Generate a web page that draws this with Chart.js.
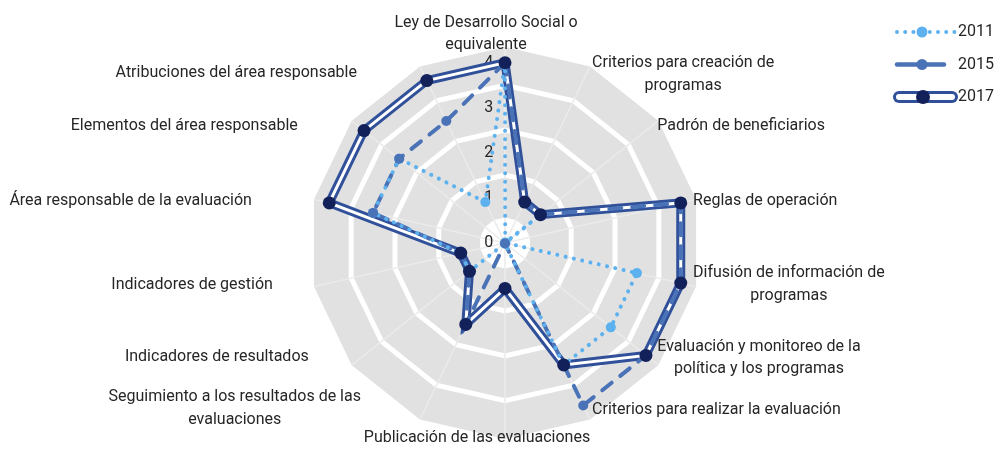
<!DOCTYPE html>
<html lang="es">
<head>
<meta charset="utf-8">
<title>Radar evaluación</title>
<script src="https://cdn.jsdelivr.net/npm/chart.js@4.4.1/dist/chart.umd.min.js"></script>
<style>
  html, body { margin: 0; padding: 0; background: #fff; }
  #wrap { width: 1000px; height: 449px; }
</style>
</head>
<body>
<div id="wrap"><canvas id="chart-radar"></canvas></div>
<script>
/* ---- Data ---- */
const categories = [
  ['Ley de Desarrollo Social o', 'equivalente'],
  ['Criterios para creación de', 'programas'],
  'Padrón de beneficiarios',
  'Reglas de operación',
  ['Difusión de información de', 'programas'],
  ['Evaluación y monitoreo de la', 'política y los programas'],
  'Criterios para realizar la evaluación',
  'Publicación de las evaluaciones',
  ['Seguimiento a los resultados de las', 'evaluaciones'],
  'Indicadores de resultados',
  'Indicadores de gestión',
  'Área responsable de la evaluación',
  'Elementos del área responsable',
  'Atribuciones del área responsable',
];
const years = ['2011', '2015', '2017'];
const v2011 = [4, 0, 1, 0, 3, 3, 3, 0, 0, 1, 1, 3, 3, 1];
const v2015 = [4, 1, 1, 4, 4, 4, 4, 0, 2, 1, 1, 3, 3, 3];
const v2017 = [4, 1, 1, 4, 4, 4, 3, 1, 2, 1, 1, 4, 4, 4];
const tickValues = [0, 1, 2, 3, 4];

/* ---- Style ---- */
const C2011 = '#5db1ee';
const C2015 = '#4a72b6';
const C2017 = '#30509a';
const C2017_DOT = '#13215b';
const GRAY = '#e1e1e1';
const TEXT = '#262626';
const FONT = 'Roboto, "Liberation Sans", sans-serif';
const LINE_H = 22.5;
// white rings between the integer steps; the small one whitens the centre
const CENTER_RING = 0.22;
const ringValues = [CENTER_RING, 0.5, 1.5, 2.5, 3.5];
// nudges (px) of each category label from the end of its spoke
const labelNudge = [
  [-19, -13], [2, 8], [-1, 5], [-3, 2], [-3, -2], [-1, -7], [2, -10],
  [-28, -1], [-59, -11], [-43, -8], [-41, -2], [-62, 2], [-54, 5], [-63, 7],
];

Chart.defaults.font.family = FONT;

/* ---- Category labels around the web ---- */
const spokeLabels = {
  id: 'spokeLabels',
  afterDatasetsDraw(chart) {
    const scale = chart.scales.r;
    const ctx = chart.ctx;
    const n = chart.data.labels.length;
    ctx.save();
    ctx.font = '16px ' + FONT;
    ctx.fillStyle = TEXT;
    ctx.textAlign = 'center';
    ctx.textBaseline = 'middle';
    chart.data.labels.forEach((label, i) => {
      const lines = [].concat(label);
      const w = Math.max(...lines.map(t => ctx.measureText(t).width));
      const p = scale.getPointPosition(i, scale.drawingArea);
      const [dx, dy] = labelNudge[i];
      let cx = p.x + dx;
      if (i > 0 && i < n / 2) cx += w / 2;
      else if (i > n / 2) cx -= w / 2;
      const y0 = p.y + dy - (lines.length - 1) * LINE_H / 2;
      lines.forEach((t, k) => ctx.fillText(t, cx, y0 + k * LINE_H));
    });
    ctx.restore();
  },
};

/* ---- Legend (top right, line samples) ---- */
function dot(ctx, x, y, r, color) {
  ctx.beginPath();
  ctx.arc(x, y, r, 0, Math.PI * 2);
  ctx.fillStyle = color;
  ctx.fill();
}

const legendIcons = [
  (ctx, x, y) => {
    for (let k = 0; k < 8; k++) dot(ctx, x + 2 + k * 8.2, y, 2, C2011);
    dot(ctx, x + 27, y, 5.5, C2011);
  },
  (ctx, x, y) => {
    ctx.strokeStyle = C2015;
    ctx.lineWidth = 4.5;
    ctx.lineCap = 'round';
    ctx.beginPath(); ctx.moveTo(x + 2, y); ctx.lineTo(x + 49, y); ctx.stroke();
    dot(ctx, x + 27, y, 5.5, C2015);
  },
  (ctx, x, y) => {
    ctx.lineCap = 'round';
    ctx.strokeStyle = C2017;
    ctx.lineWidth = 12;
    ctx.beginPath(); ctx.moveTo(x + 4, y); ctx.lineTo(x + 57, y); ctx.stroke();
    ctx.strokeStyle = '#fff';
    ctx.lineWidth = 6;
    ctx.beginPath(); ctx.moveTo(x + 4, y); ctx.lineTo(x + 57, y); ctx.stroke();
    dot(ctx, x + 28, y, 7, C2017_DOT);
  },
];

const seriesLegend = {
  id: 'seriesLegend',
  afterDraw(chart) {
    const ctx = chart.ctx;
    ctx.save();
    ctx.font = '16px ' + FONT;
    ctx.textBaseline = 'middle';
    ctx.textAlign = 'left';
    years.forEach((name, i) => {
      const y = 32 + i * 32.5;
      ctx.save();
      legendIcons[i](ctx, 895, y);
      ctx.restore();
      ctx.fillStyle = TEXT;
      ctx.fillText(name, 958, y);
    });
    ctx.restore();
  },
};

/* ---- Chart ---- */
new Chart(document.getElementById('chart-radar'), {
  type: 'radar',
  data: {
    labels: categories,
    datasets: [
      { // 2017 double line: wide blue stroke ...
        label: '2017', data: v2017, order: 6,
        borderColor: C2017, borderWidth: 9, borderJoinStyle: 'miter',
        pointRadius: 0,
      },
      { // ... with a white core
        label: '2017 core', data: v2017, order: 5,
        borderColor: '#fff', borderWidth: 3, borderJoinStyle: 'miter',
        pointRadius: 0,
      },
      {
        label: '2015', data: v2015, order: 4,
        borderColor: C2015, borderWidth: 4, borderDash: [12, 11], borderCapStyle: 'round',
        pointRadius: 0,
      },
      {
        label: '2011', data: v2011, order: 3,
        borderColor: C2011, borderWidth: 4, borderDash: [0.1, 8.4], borderCapStyle: 'round',
        pointRadius: 5, pointBackgroundColor: C2011, pointBorderWidth: 0,
      },
      {
        label: '2015 points', data: v2015, order: 2, showLine: false,
        pointRadius: 5, pointBackgroundColor: C2015, pointBorderWidth: 0,
      },
      {
        label: '2017 points', data: v2017, order: 1, showLine: false,
        pointRadius: 6.5, pointBackgroundColor: C2017_DOT, pointBorderWidth: 0,
      },
    ],
  },
  options: {
    responsive: true,
    maintainAspectRatio: false,
    animation: false,
    events: [],
    layout: { padding: { left: 10, right: 0, top: 39, bottom: 2 } },
    elements: { line: { tension: 0, fill: false, backgroundColor: 'rgba(0,0,0,0)' } },
    plugins: {
      legend: { display: false },
      tooltip: { enabled: false },
      filler: { propagate: false },
    },
    scales: {
      r: {
        min: -0.01,
        max: 4.35,
        backgroundColor: GRAY,
        angleLines: { color: '#ebebeb', lineWidth: 1.5 },
        grid: {
          circular: false,
          color: ctx => ringValues.includes(ctx.tick.value) ? '#ffffff' : 'rgba(0,0,0,0)',
          lineWidth: ctx => ctx.tick.value === CENTER_RING ? 20 : 5,
        },
        ticks: {
          stepSize: 0.5,
          showLabelBackdrop: false,
          backdropPadding: 0,
          color: TEXT,
          font: { size: 16 },
          // trailing en spaces push the centred digit left of the spoke
          callback: v => tickValues.includes(v) ? v + '\u2002\u2002\u2002\u2002' : '',
        },
        pointLabels: { display: false },
        afterBuildTicks: scale => {
          scale.ticks = [...tickValues, ...ringValues].sort((a, b) => a - b).map(value => ({ value }));
        },
      },
    },
  },
  plugins: [spokeLabels, seriesLegend],
});
</script>
</body>
</html>
